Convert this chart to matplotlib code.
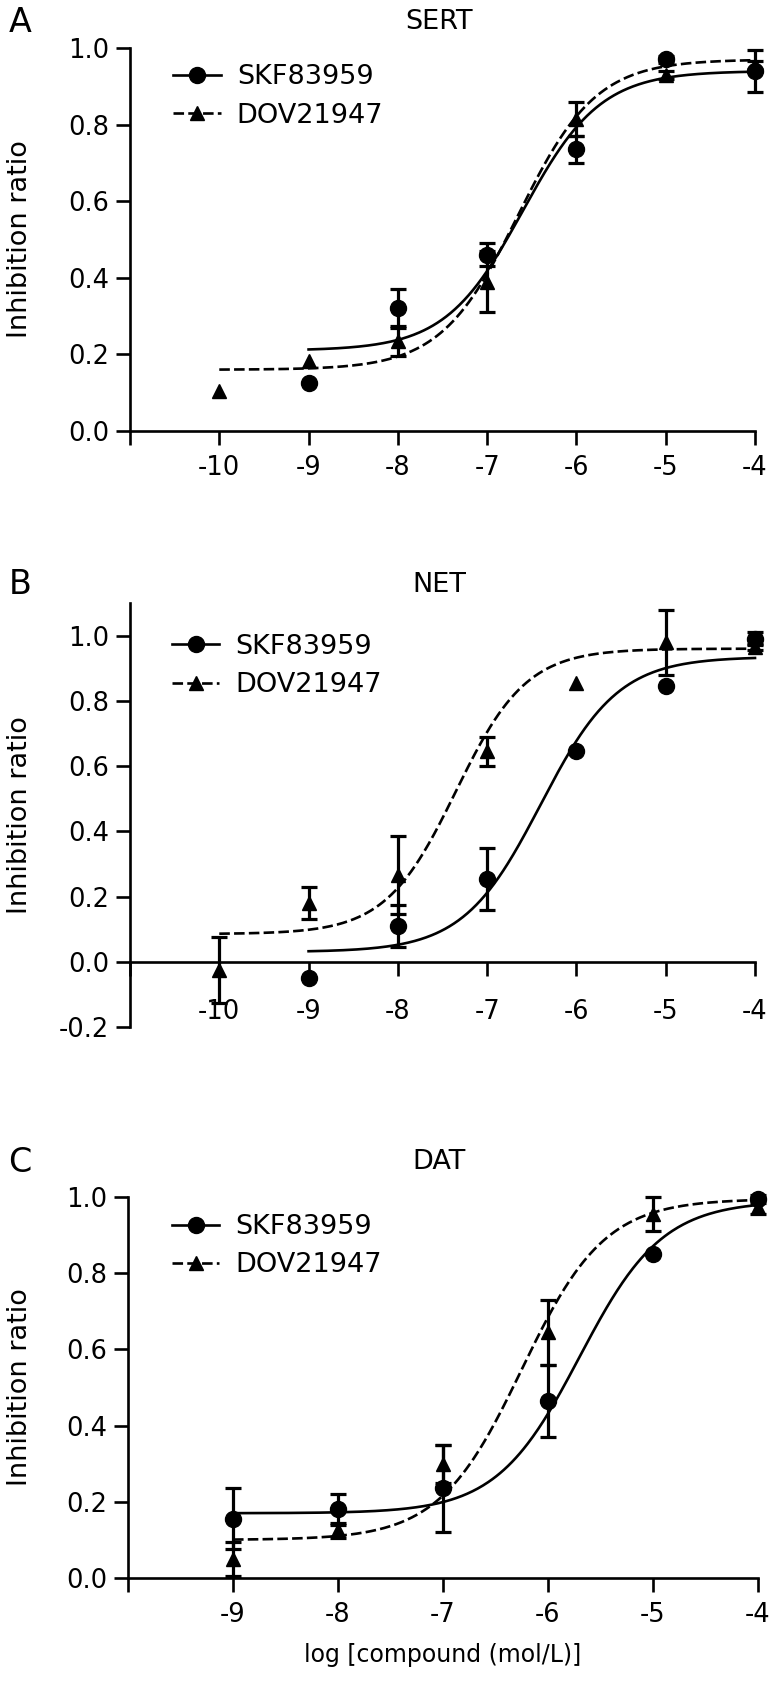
import numpy as np
import matplotlib.pyplot as plt
from matplotlib.lines import Line2D

plt.rcParams['font.family'] = ['DejaVu Sans']

# --- SERT (panel A) ---
sert_skf_x = [-9, -8, -7, -6, -5, -4]
sert_skf_y = [0.125, 0.32, 0.46, 0.735, 0.97, 0.94]
sert_skf_err = [0, 0.05, 0.03, 0.035, 0.01, 0.055]
sert_dov_x = [-10, -9, -8, -7, -6, -5, -4]
sert_dov_y = [0.105, 0.183, 0.235, 0.39, 0.815, 0.93, 0.955]
sert_dov_err = [0, 0, 0.04, 0.08, 0.045, 0.01, 0.01]
# fitted curves: bottom, top, logEC50, hill slope, first x
sert_skf_fit = [0.21, 0.94, -6.6, 1.0, -9]
sert_dov_fit = [0.16, 0.97, -6.65, 1.0, -10]

# --- NET (panel B) ---
net_skf_x = [-9, -8, -7, -6, -5, -4]
net_skf_y = [-0.05, 0.11, 0.255, 0.645, 0.845, 0.99]
net_skf_err = [0, 0.065, 0.095, 0, 0, 0.02]
net_dov_x = [-10, -9, -8, -7, -6, -5, -4]
net_dov_y = [-0.025, 0.18, 0.265, 0.645, 0.855, 0.98, 0.965]
net_dov_err = [0.1, 0.05, 0.12, 0.045, 0, 0.1, 0.01]
net_skf_fit = [0.03, 0.935, -6.4, 1.0, -9]
net_dov_fit = [0.085, 0.96, -7.35, 1.1, -10]

# --- DAT (panel C) ---
dat_skf_x = [-9, -8, -7, -6, -5, -4]
dat_skf_y = [0.155, 0.18, 0.235, 0.465, 0.85, 0.995]
dat_skf_err = [0.08, 0.04, 0.115, 0.095, 0, 0.01]
dat_dov_x = [-9, -8, -7, -6, -5, -4]
dat_dov_y = [0.05, 0.125, 0.30, 0.645, 0.955, 0.975]
dat_dov_err = [0.045, 0.02, 0.05, 0.085, 0.045, 0.02]
dat_skf_fit = [0.17, 0.99, -5.7, 1.1, -9]
dat_dov_fit = [0.10, 0.995, -6.25, 1.1, -9]

series_names = ['SKF83959', 'DOV21947']
ab_xticks = [-11, -10, -9, -8, -7, -6, -5, -4]
ab_xlabels = ['', '-10', '-9', '-8', '-7', '-6', '-5', '-4']
c_xticks = [-10, -9, -8, -7, -6, -5, -4]
c_xlabels = ['', '-9', '-8', '-7', '-6', '-5', '-4']

W, H = 773, 1689
LW = 1.9
DASH = (0, (4, 1.6))


def hill(x, bottom, top, logec50, slope):
    return bottom + (top - bottom) / (1 + 10 ** ((logec50 - x) * slope))


def fx(px):
    return px / W


def fy(py):
    return 1 - py / H


panels = [
    dict(letter='A', title='SERT', box=(130, 755, 48, 431), ylim=(0, 1.0),
         yticks=[0, 0.2, 0.4, 0.6, 0.8, 1.0], xlim=(-11, -4),
         xticks=ab_xticks, xlabels=ab_xlabels, pad=7, head_y=22,
         leg=(0.069, 0.957),
         skf=(sert_skf_x, sert_skf_y, sert_skf_err, sert_skf_fit),
         dov=(sert_dov_x, sert_dov_y, sert_dov_err, sert_dov_fit)),
    dict(letter='B', title='NET', box=(130, 755, 603, 1027), ylim=(-0.2, 1.1),
         yticks=[-0.2, 0, 0.2, 0.4, 0.6, 0.8, 1.0], xlim=(-11, -4),
         xticks=ab_xticks, xlabels=ab_xlabels, pad=17, head_y=585,
         leg=(0.067, 0.927),
         skf=(net_skf_x, net_skf_y, net_skf_err, net_skf_fit),
         dov=(net_dov_x, net_dov_y, net_dov_err, net_dov_fit)),
    dict(letter='C', title='DAT', box=(128, 758, 1197, 1578), ylim=(0, 1.0),
         yticks=[0, 0.2, 0.4, 0.6, 0.8, 1.0], xlim=(-10, -4),
         xticks=c_xticks, xlabels=c_xlabels, pad=7, head_y=1162,
         leg=(0.07, 0.955),
         skf=(dat_skf_x, dat_skf_y, dat_skf_err, dat_skf_fit),
         dov=(dat_dov_x, dat_dov_y, dat_dov_err, dat_dov_fit)),
]

fig = plt.figure(figsize=(W / 100, H / 100), dpi=100)

for p in panels:
    l, r, t, b = p['box']
    ax = fig.add_axes([fx(l), fy(b), fx(r) - fx(l), (b - t) / H])

    for key, mk, ms, ls in [('skf', 'o', 11.5, '-'), ('dov', '^', 10.5, DASH)]:
        x, y, err, fit = p[key]
        xs = np.linspace(fit[4], -4, 400)
        ax.plot(xs, hill(xs, *fit[:4]), color='k', lw=LW, ls=ls, clip_on=False, zorder=2)
        x = np.array(x)
        y = np.array(y)
        err = np.array(err)
        m = err > 0
        ax.errorbar(x[m], y[m], yerr=err[m], fmt='none', ecolor='k', elinewidth=2.3,
                    capsize=5.5, capthick=2.3, clip_on=False, zorder=3)
        ax.plot(x, y, mk, color='k', ms=ms, clip_on=False, zorder=4)

    ax.set_xlim(*p['xlim'])
    ax.set_ylim(*p['ylim'])
    ax.set_xticks(p['xticks'])
    ax.set_xticklabels(p['xlabels'])
    ax.set_yticks(p['yticks'])
    ax.set_yticklabels(['%.1f' % v for v in p['yticks']])
    for s in ['top', 'right']:
        ax.spines[s].set_visible(False)
    for s in ['left', 'bottom']:
        ax.spines[s].set_linewidth(LW)
    if p['letter'] == 'B':
        ax.spines['bottom'].set_position(('data', 0))
    ax.tick_params(direction='out', length=10, width=LW, labelsize=18.5, color='k')
    ax.tick_params(axis='x', pad=p['pad'])
    ax.tick_params(axis='y', pad=5)

    handles = [Line2D([], [], color='k', lw=LW, marker='o', ms=11.5),
               Line2D([], [], color='k', lw=LW, ls=DASH, marker='^', ms=10.5)]
    ax.legend(handles, series_names, loc='upper left', bbox_to_anchor=p['leg'],
              frameon=False, fontsize=19.5, handlelength=1.75, handletextpad=0.6,
              labelspacing=0.45, borderpad=0, borderaxespad=0, numpoints=1)

    fig.text(fx(20), fy(p['head_y']), p['letter'], fontsize=24, ha='center', va='center')
    fig.text(fx(439), fy(p['head_y']), p['title'], fontsize=19.5, ha='center', va='center')
    fig.text(fx(20), fy((t + b) / 2), 'Inhibition ratio', fontsize=19.5, rotation=90,
             ha='center', va='center')

fig.text(fx(443), fy(1655), 'log [compound (mol/L)]', fontsize=17, ha='center', va='center')

fig.savefig('out.png', dpi=100)
